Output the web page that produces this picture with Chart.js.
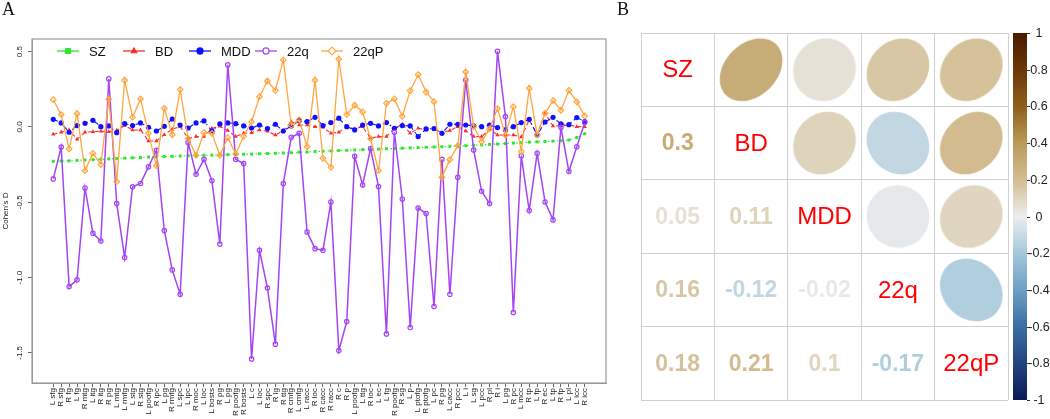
<!DOCTYPE html>
<html lang="en">
  <head>
    <meta charset="UTF-8" />
    <title>Cohen's D by region and cross-disorder correlation</title>
    <script src="https://cdn.jsdelivr.net/npm/chart.js"></script>
    <style>
      body { margin: 0; background: #fff; overflow: hidden; font-family: "Liberation Sans", Arial, sans-serif; }
      .panel { position: absolute; top: 0; height: 419px; }
      #left { left: 0; width: 620px; }
      #right { left: 630px; width: 420px; }
      .tag { position: absolute; top: 0; font: 18px/18px "Liberation Serif", "Times New Roman", serif; color: #111; }
    </style>
  </head>
  <body>
    <div class="panel" id="left"><canvas id="effectChart"></canvas></div>
    <div class="panel" id="right"><canvas id="corrChart"></canvas></div>
    <div class="tag" style="left: 2px">A</div>
    <div class="tag" style="left: 617px">B</div>

    <script>
      // regions on the x axis
      const regions = [
        "L sfg", "R sfg", "R fg", "L fg", "R mtg", "L itg", "R itg", "R pg", "L mtg", "L rmfg",
        "L stg", "R stg", "L poofg", "R ipc", "L pg", "R rmfg", "L spc", "L ipc", "R moc", "L loc",
        "L bosts", "R pg", "L pg", "R poofg", "R bosts", "L c", "L loc", "R spc", "R lg", "R ttg",
        "R cmfg", "L cmfg", "L racc", "R loc", "R cacc", "R racc", "R c", "R p", "L poofg", "L ttg",
        "R loc", "L ec", "L fg", "R poofg", "R sg", "L p", "L ptofg", "R ptofg", "L pc", "R pg",
        "L cacc", "R pcc", "L i", "L sg", "L pcc", "R pl", "R i", "L pg", "R pc", "L mcc",
        "R tp", "L fp", "R ec", "L tp", "R fp", "L pl", "L icc", "R icc"
      ];

      // Cohen's D per group
      const sz = [
        -0.228, -0.226, -0.225, -0.222, -0.219, -0.217, -0.215, -0.212, -0.21, -0.207,
        -0.205, -0.203, -0.2, -0.198, -0.197, -0.195, -0.193, -0.191, -0.19, -0.188,
        -0.187, -0.185, -0.184, -0.183, -0.181, -0.18, -0.178, -0.176, -0.175, -0.173,
        -0.171, -0.168, -0.166, -0.163, -0.161, -0.159, -0.157, -0.155, -0.153, -0.151,
        -0.149, -0.147, -0.145, -0.143, -0.141, -0.139, -0.137, -0.135, -0.133, -0.131,
        -0.129, -0.127, -0.124, -0.122, -0.119, -0.116, -0.113, -0.11, -0.107, -0.104,
        -0.101, -0.099, -0.097, -0.094, -0.092, -0.087, -0.07, -0.045
      ];
      const bd = [
        -0.049, -0.035, -0.02, -0.082, -0.035, -0.031, -0.029, -0.031, -0.022, 0.009,
        -0.02, -0.02, -0.093, -0.093, -0.051, -0.015, 0.002, -0.075, -0.064, -0.064,
        -0.009, 0.004, -0.024, -0.064, -0.042, -0.038, -0.02, -0.029, -0.053, -0.024,
        0.035, 0.013, 0.013, 0.002, -0.002, -0.042, -0.035, 0.002, -0.013, 0.002,
        -0.075, -0.064, -0.064, -0.009, 0.018, -0.042, -0.009, -0.02, -0.015, -0.038,
        -0.024, 0.002, -0.027, -0.064, -0.064, -0.015, -0.053, -0.055, -0.053, -0.066,
        0.046, -0.049, 0.091, 0.007, 0.007, 0.013, 0.002, 0.002
      ];
      const mdd = [
        0.051, 0.027, -0.035, 0.009, 0.024, 0.044, 0.002, 0.007, -0.038, 0.022,
        0.009, 0.027, -0.002, -0.027, 0.004, 0.053, 0.013, -0.007, 0.027, 0.04,
        -0.027, 0.02, 0.027, 0.022, 0.007, -0.007, 0.013, -0.011, 0.018, -0.027,
        0.007, 0.042, 0.035, 0.064, 0.009, 0.029, 0.058, 0.002, -0.02, 0.013,
        0.024, 0.007, 0.029, -0.009, 0.009, 0.007, -0.064, -0.013, -0.011, -0.042,
        0.018, 0.018, 0.013, 0.007, 0.002, 0.013, -0.004, -0.02, 0.002, 0.029,
        0.051, -0.053, 0.033, 0.064, 0.02, 0.015, 0.062, 0.035
      ];
      const q22 = [
        -0.345, -0.133, -1.06, -1.015, -0.405, -0.706, -0.757, 0.319, -0.509, -0.867,
        -0.397, -0.375, -0.265, -0.155, -0.688, -0.949, -1.111, -0.104, -0.314, -0.215,
        -0.357, -0.777, 0.412, -0.215, -0.243, -1.54, -0.819, -1.07, -1.442, -0.376,
        -0.069, -0.042, -0.697, -0.808, -0.819, -0.498, -1.485, -1.292, -0.195, -0.385,
        -0.144, -0.396, -1.374, -0.035, -0.478, -1.332, -0.538, -0.575, -1.192, -0.215,
        -1.111, -0.334, 0.312, -0.153, -0.427, -0.509, 0.502, 0.069, -1.232, -0.192,
        -0.555, -0.175, -0.498, -0.617, -0.004, -0.296, -0.131, 0.029
      ];
      const q22p = [
        0.181, 0.082, -0.146, 0.088, -0.29, -0.175, -0.25, 0.184, -0.363, 0.31,
        0.064, 0.186, -0.042, -0.257, 0.124, -0.051, 0.248, -0.077, -0.188, -0.038,
        -0.042, -0.188, -0.071, -0.179, -0.062, 0.035, 0.201, 0.305, 0.243, 0.445,
        0.011, 0.049, -0.131, 0.31, -0.208, -0.268, 0.451, 0.082, 0.144, 0.1,
        -0.077, -0.29, 0.157, 0.186, 0.071, 0.241, 0.347, 0.232, 0.168, -0.334,
        -0.217, -0.124, 0.365, 0.002, -0.097, -0.013, 0.122, -0.055, 0.135, -0.164,
        0.257, -0.053, 0.091, 0.175, 0.111, 0.243, 0.166, 0.073
      ];

      const yTicks = [0.5, 0, -0.5, -1, -1.5];
      const yTickLabels = ["0.5", "0.0", "-0.5", "-1.0", "-1.5"];

      // correlation matrix (rows in group order)
      const groups = ["SZ", "BD", "MDD", "22q", "22qP"];
      const corrSZ = [1, 0.3, 0.05, 0.16, 0.18];
      const corrBD = [0.3, 1, 0.11, -0.12, 0.21];
      const corrMDD = [0.05, 0.11, 1, -0.02, 0.1];
      const corr22q = [0.16, -0.12, -0.02, 1, -0.17];
      const corr22qP = [0.18, 0.21, 0.1, -0.17, 1];
      const cbTicks = [1, 0.8, 0.6, 0.4, 0.2, 0, -0.2, -0.4, -0.6, -0.8, -1];

      const FONT = '"Liberation Sans", Arial, sans-serif';

      // ---------- panel A ----------
      function toPoints(arr) {
        return arr.map((v, i) => ({ x: i + 1, y: v }));
      }

      function drawMarker(ctx, style, x, y, r, fill, stroke, lw) {
        ctx.beginPath();
        if (style === "rect") {
          ctx.rect(x - r, y - r, 2 * r, 2 * r);
        } else if (style === "triangle") {
          ctx.moveTo(x, y - r * 1.2);
          ctx.lineTo(x + r * 1.05, y + r * 0.65);
          ctx.lineTo(x - r * 1.05, y + r * 0.65);
          ctx.closePath();
        } else if (style === "rectRot") {
          ctx.moveTo(x, y - r);
          ctx.lineTo(x + r, y);
          ctx.lineTo(x, y + r);
          ctx.lineTo(x - r, y);
          ctx.closePath();
        } else {
          ctx.arc(x, y, r, 0, Math.PI * 2);
        }
        if (fill) { ctx.fillStyle = fill; ctx.fill(); }
        if (lw > 0) { ctx.strokeStyle = stroke; ctx.lineWidth = lw; ctx.stroke(); }
      }

      const panelA = {
        id: "panelA",
        afterDraw(chart) {
          const { ctx, chartArea: a, scales } = chart;
          ctx.save();
          ctx.strokeStyle = "#9a9a9a";
          ctx.lineWidth = 1.2;
          ctx.strokeRect(a.left, a.top, a.right - a.left, a.bottom - a.top);

          // rotated y tick labels and title
          ctx.fillStyle = "#222";
          ctx.font = "8px " + FONT;
          ctx.textAlign = "center";
          ctx.textBaseline = "middle";
          yTicks.forEach((v, k) => {
            ctx.save();
            ctx.translate(a.left - 12, scales.y.getPixelForValue(v));
            ctx.rotate(-Math.PI / 2);
            ctx.fillText(yTickLabels[k], 0, 0);
            ctx.restore();
          });
          ctx.save();
          ctx.translate(6, (a.top + a.bottom) / 2);
          ctx.rotate(-Math.PI / 2);
          ctx.fillText("Cohen's D", 0, 0);
          ctx.restore();

          // legend inside the plot
          ctx.font = "13px " + FONT;
          ctx.textAlign = "left";
          const ly = a.top + 12;
          chart.data.datasets.forEach((ds, k) => {
            const x0 = a.left + 25 + k * 66;
            ctx.strokeStyle = ds.borderColor;
            ctx.lineWidth = 1.3;
            ctx.setLineDash([]);
            ctx.beginPath();
            ctx.moveTo(x0, ly);
            ctx.lineTo(x0 + 22, ly);
            ctx.stroke();
            drawMarker(ctx, ds.pointStyle, x0 + 11, ly, ds.pointRadius * 1.4,
              ds.pointBorderWidth > 0 ? "#fff" : ds.pointBackgroundColor,
              ds.pointBorderColor, ds.pointBorderWidth);
            ctx.fillStyle = "#111";
            ctx.fillText(ds.label, x0 + 32, ly + 1);
          });
          ctx.restore();
        }
      };

      new Chart(document.getElementById("effectChart"), {
        type: "line",
        data: {
          datasets: [
            {
              label: "SZ", data: toPoints(sz), order: 5,
              borderColor: "#2ee62e", borderWidth: 1.2, borderDash: [1.5, 3],
              pointStyle: "rect", pointRadius: 2.1,
              pointBackgroundColor: "#2ee62e", pointBorderColor: "#2ee62e", pointBorderWidth: 0
            },
            {
              label: "BD", data: toPoints(bd), order: 4,
              borderColor: "#ff2a2a", borderWidth: 1.1, borderDash: [4, 3],
              pointStyle: "triangle", pointRadius: 2.5,
              pointBackgroundColor: "#ff2a2a", pointBorderColor: "#ff2a2a", pointBorderWidth: 0
            },
            {
              label: "MDD", data: toPoints(mdd), order: 3,
              borderColor: "#1010ff", borderWidth: 1.1, borderDash: [5, 3, 1.5, 3],
              pointStyle: "circle", pointRadius: 2.6,
              pointBackgroundColor: "#1010ff", pointBorderColor: "#1010ff", pointBorderWidth: 0
            },
            {
              label: "22q", data: toPoints(q22), order: 2,
              borderColor: "#a445f5", borderWidth: 1.5,
              pointStyle: "circle", pointRadius: 2.2,
              pointBackgroundColor: "rgba(255,255,255,0)", pointBorderColor: "#a445f5", pointBorderWidth: 1.2
            },
            {
              label: "22qP", data: toPoints(q22p), order: 1,
              borderColor: "#ffa63f", borderWidth: 1.3,
              pointStyle: "rectRot", pointRadius: 2.8,
              pointBackgroundColor: "rgba(255,255,255,0)", pointBorderColor: "#ffa63f", pointBorderWidth: 1.2
            }
          ]
        },
        options: {
          responsive: true,
          maintainAspectRatio: false,
          animation: false,
          events: [],
          layout: { autoPadding: false, padding: { top: 39, right: 14, left: 0, bottom: 0 } },
          plugins: { legend: { display: false }, tooltip: { enabled: false } },
          elements: { line: { tension: 0 } },
          scales: {
            x: {
              type: "linear",
              min: -1.68,
              max: 70.68,
              afterBuildTicks: (s) => { s.ticks = regions.map((_, i) => ({ value: i + 1 })); },
              afterFit: (s) => { s.height = 36; },
              ticks: {
                autoSkip: false, minRotation: 90, maxRotation: 90, padding: 1,
                color: "#222", font: { size: 8, family: FONT },
                callback: (v) => regions[v - 1]
              },
              grid: { drawOnChartArea: false, tickLength: 4, color: "#666" },
              border: { color: "#9a9a9a" }
            },
            y: {
              type: "linear",
              min: -1.7,
              max: 0.584,
              afterBuildTicks: (s) => { s.ticks = yTicks.map((v) => ({ value: v })); },
              afterFit: (s) => { s.width = 32; },
              ticks: { display: false },
              grid: { drawOnChartArea: false, tickLength: 4, color: "#666" },
              border: { color: "#9a9a9a" }
            }
          }
        },
        plugins: [panelA]
      });

      // ---------- panel B ----------
      const corrRows = [corrSZ, corrBD, corrMDD, corr22q, corr22qP];
      const colorStops = [
        [-1, "#0b1a57"], [-0.6, "#3a6ea5"], [-0.4, "#6e9fc4"], [-0.2, "#a5c8db"],
        [0, "#ededed"], [0.2, "#d2bd92"], [0.4, "#ba9a5a"], [0.6, "#8e5e1a"],
        [0.8, "#6a3808"], [1, "#4a1a02"]
      ];

      function hexRgb(h) {
        return [1, 3, 5].map((k) => parseInt(h.slice(k, k + 2), 16));
      }
      function colorFor(v) {
        for (let k = 1; k < colorStops.length; k++) {
          const [v1, c1] = colorStops[k];
          const [v0, c0] = colorStops[k - 1];
          if (v <= v1) {
            const t = (v - v0) / (v1 - v0);
            const a = hexRgb(c0), b = hexRgb(c1);
            const m = a.map((c, n) => Math.round(c + (b[n] - c) * t));
            return "rgb(" + m.join(",") + ")";
          }
        }
        return colorStops[colorStops.length - 1][1];
      }

      const ellipseCache = {};
      function ellipseImage(r) {
        if (ellipseCache[r]) return ellipseCache[r];
        const size = 66, s = 31.3, c = size / 2;
        const cv = document.createElement("canvas");
        cv.width = size;
        cv.height = size;
        const g = cv.getContext("2d");
        const d = Math.acos(r);
        g.beginPath();
        for (let k = 0; k <= 120; k++) {
          const t = (k / 120) * Math.PI * 2;
          const px = c + s * Math.cos(t + d / 2);
          const py = c - s * Math.cos(t - d / 2);
          if (k === 0) g.moveTo(px, py); else g.lineTo(px, py);
        }
        g.closePath();
        g.fillStyle = colorFor(r);
        g.fill();
        ellipseCache[r] = cv;
        return cv;
      }

      const upper = [];
      corrRows.forEach((row, i) => {
        row.forEach((v, j) => {
          if (j > i) upper.push({ x: j + 1, y: i + 1, r: v });
        });
      });
      const bounds = groups.map((_, i) => i + 0.5).concat([groups.length + 0.5]);

      const panelB = {
        id: "panelB",
        afterDatasetsDraw(chart) {
          const { ctx, chartArea: a, scales } = chart;
          ctx.save();
          ctx.textAlign = "center";
          ctx.textBaseline = "middle";
          corrRows.forEach((row, i) => {
            row.forEach((v, j) => {
              const cx = scales.x.getPixelForValue(j + 1);
              const cy = scales.y.getPixelForValue(i + 1);
              if (i === j) {
                ctx.font = "24px " + FONT;
                ctx.fillStyle = "#ff0000";
                ctx.fillText(groups[i], cx, cy + 1);
              } else if (i > j) {
                ctx.font = "bold 23px " + FONT;
                ctx.fillStyle = colorFor(v);
                ctx.fillText(String(v), cx, cy + 1);
              }
            });
          });

          // colour legend
          const cb = scales.cb;
          const top = cb.getPixelForValue(1);
          const bot = cb.getPixelForValue(-1);
          const gx = a.right + 5;
          const grad = ctx.createLinearGradient(0, top, 0, bot);
          colorStops.forEach(([v, c]) => grad.addColorStop((1 - v) / 2, c));
          ctx.fillStyle = grad;
          ctx.fillRect(gx, top, 14, bot - top);
          ctx.strokeStyle = "#333";
          ctx.lineWidth = 1;
          ctx.fillStyle = "#222";
          ctx.font = "12.5px " + FONT;
          cbTicks.forEach((v) => {
            const yy = Math.round(cb.getPixelForValue(v)) + 0.5;
            ctx.beginPath();
            ctx.moveTo(gx + 14, yy);
            ctx.lineTo(gx + 17, yy);
            ctx.stroke();
            ctx.fillText(String(v), gx + 26, yy);
          });
          ctx.restore();
        }
      };

      new Chart(document.getElementById("corrChart"), {
        type: "scatter",
        data: {
          datasets: [
            {
              data: upper,
              pointStyle: (c) => ellipseImage(c.raw.r),
              pointRadius: 31
            }
          ]
        },
        options: {
          responsive: true,
          maintainAspectRatio: false,
          animation: false,
          events: [],
          layout: { autoPadding: false, padding: { top: 33, right: 42, left: 11, bottom: 19 } },
          plugins: { legend: { display: false }, tooltip: { enabled: false } },
          scales: {
            x: {
              type: "linear", min: 0.5, max: groups.length + 0.5,
              afterBuildTicks: (s) => { s.ticks = bounds.map((v) => ({ value: v })); },
              afterFit: (s) => { s.height = 0; },
              ticks: { display: false },
              grid: { color: "#d0d0d0", drawTicks: false },
              border: { display: false }
            },
            y: {
              type: "linear", min: 0.5, max: groups.length + 0.5, reverse: true,
              afterBuildTicks: (s) => { s.ticks = bounds.map((v) => ({ value: v })); },
              afterFit: (s) => { s.width = 0; },
              ticks: { display: false },
              grid: { color: "#d0d0d0", drawTicks: false },
              border: { display: false }
            },
            cb: { type: "linear", position: "right", display: false, min: -1, max: 1 }
          }
        },
        plugins: [panelB]
      });
    </script>
  </body>
</html>
